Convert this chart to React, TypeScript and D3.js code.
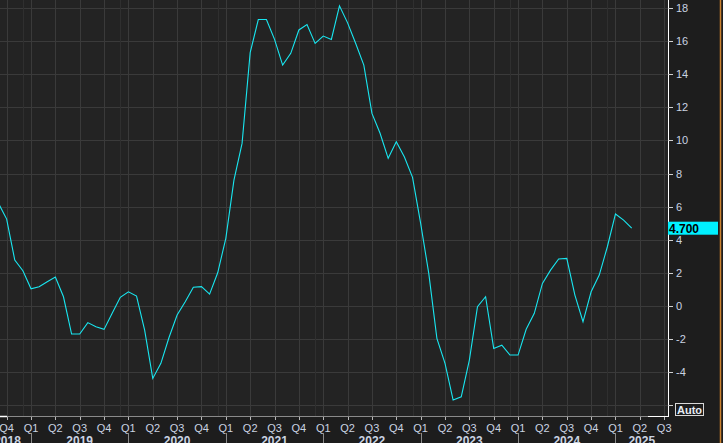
import React from "react";
import * as d3 from "d3";

// Monthly series starting Sep 2018 (index 0) through Mar 2025
const startYear = 2018;
const startMonth = 9; // September
const values: number[] = [
  // 2018 Sep-Dec
  6.2, 5.25, 2.78, 2.13,
  // 2019
  1.04, 1.17, 1.47, 1.75, 0.56, -1.69, -1.69, -1.0, -1.25, -1.41, -0.44, 0.53,
  // 2020
  0.86, 0.6, -1.45, -4.37, -3.46, -1.9, -0.54, 0.26, 1.13, 1.17, 0.72, 2.01,
  // 2021
  4.09, 7.6, 9.82, 15.3, 17.3, 17.3, 16.1, 14.55, 15.26, 16.67, 17.0, 15.86,
  // 2022
  16.3, 16.1, 18.13, 17.1, 15.85, 14.55, 11.63, 10.43, 8.92, 9.92, 9.0, 7.77,
  // 2023
  4.99, 1.97, -1.95, -3.46, -5.68, -5.48, -3.26, -0.04, 0.56, -2.56, -2.36, -2.96,
  // 2024
  -2.96, -1.4, -0.44, 1.37, 2.17, 2.84, 2.88, 0.66, -0.95, 0.86, 1.87, 3.58,
  // 2025
  5.56, 5.19, 4.7,
];
const lastLabel = "4.700";
const yTicks = [-4, -2, 0, 2, 4, 6, 8, 10, 12, 14, 16, 18];
const yGrid = [-6, -4, -2, 0, 2, 4, 6, 8, 10, 12, 14, 16, 18];
const years = [2018, 2019, 2020, 2021, 2022, 2023, 2024, 2025];
const quarterNames = ["Q1", "Q2", "Q3", "Q4"];

const W = 723;
const H = 443;
const PW = 668; // plot width
const PH = 416; // plot height

// month index helper (Sep 2018 = 0)
const idx = (year: number, month: number) => (year - startYear) * 12 + (month - startMonth);

export default function App() {
  const x = d3.scaleLinear().domain([0.181, 82.47]).range([0, PW]);
  const y = d3.scaleLinear().domain([-6.64, 18.48]).range([PH, 0]);

  const line = d3
    .line<number>()
    .x((_, i) => x(i))
    .y((d) => y(d));

  // quarter ticks: Q4 2018 .. Q3 2025
  const quarters: { i: number; label: string }[] = [];
  for (let yr = 2018; yr <= 2025; yr++) {
    for (let q = 0; q < 4; q++) {
      const i = idx(yr, q * 3 + 1);
      if (x(i) >= 0 && x(i) <= PW) quarters.push({ i, label: quarterNames[q] });
    }
  }
  const decLines = years.map((yr) => idx(yr, 12)).filter((i) => x(i) > 0 && x(i) < PW);

  const last = values[values.length - 1];
  const labelFont = "'Liberation Sans', Arial, sans-serif";
  const txtColor = "#cad3e2";

  return (
    <>
      <style>{`body{margin:0;background:#1d1d1d}`}</style>
      <svg width={W} height={H} style={{ display: "block" }} fontFamily={labelFont}>
        <rect x={0} y={0} width={W} height={H} fill="#1d1d1d" />
        <rect x={0} y={0} width={PW} height={PH} fill="#232323" />
        {/* horizontal grid */}
        {yGrid.map((v) => (
          <line key={"h" + v} x1={0} x2={PW} y1={Math.round(y(v)) + 0.5} y2={Math.round(y(v)) + 0.5} stroke="#3a3a3a" strokeWidth={1} />
        ))}
        {/* vertical grid */}
        {decLines.map((i) => (
          <line key={"d" + i} x1={Math.round(x(i)) + 0.5} x2={Math.round(x(i)) + 0.5} y1={0} y2={PH} stroke="#2f2f2f" strokeWidth={1} />
        ))}
        {quarters.map((q) => (
          <line key={"v" + q.i} x1={Math.round(x(q.i)) + 0.5} x2={Math.round(x(q.i)) + 0.5} y1={0} y2={PH} stroke="#3a3a3a" strokeWidth={1} />
        ))}
        {/* data line */}
        <clipPath id="plotclip">
          <rect x={0} y={0} width={PW} height={PH} />
        </clipPath>
        <path d={line(values) || ""} fill="none" stroke="#19e6f0" strokeWidth={1.1} clipPath="url(#plotclip)" />
        {/* x axis line */}
        <line x1={0} x2={PW} y1={PH + 0.5} y2={PH + 0.5} stroke="#8a8a8a" strokeWidth={1} />
        <line x1={0} x2={7} y1={PH + 0.5} y2={PH + 0.5} stroke="#ffffff" strokeWidth={1.5} />
        <line x1={648} x2={PW} y1={PH + 0.5} y2={PH + 0.5} stroke="#ffffff" strokeWidth={1} />
        {/* quarter ticks and labels */}
        {quarters.map((q) => (
          <g key={"q" + q.i}>
            <line x1={Math.round(x(q.i)) + 0.5} x2={Math.round(x(q.i)) + 0.5} y1={PH + 1} y2={PH + 4} stroke="#b8b8b8" />
            <text x={x(q.i)} y={432} textAnchor="middle" fontSize={11} fill={txtColor}>
              {q.label}
            </text>
          </g>
        ))}
        {/* year separators and labels */}
        {years.map((yr) => {
          const s = x(idx(yr, 1));
          const e = x(idx(yr + 1, 1));
          const l = Math.max(s, -16);
          const r = Math.min(e, PW);
          return (
            <g key={"y" + yr}>
              {s > 0 && s < PW && (
                <line x1={Math.round(s) + 0.5} x2={Math.round(s) + 0.5} y1={433} y2={H} stroke="#8a8a8a" />
              )}
              <text x={(l + r) / 2} y={445} textAnchor="middle" fontSize={12} fontWeight="bold" fill={txtColor}>
                {yr}
              </text>
            </g>
          );
        })}
        {/* y axis */}
        <line x1={PW + 0.5} x2={PW + 0.5} y1={0} y2={PH + 1} stroke="#ffffff" strokeWidth={1} />
        {yGrid.map((v) => (
          <line key={"t" + v} x1={PW} x2={PW + 5} y1={Math.round(y(v)) + 0.5} y2={Math.round(y(v)) + 0.5} stroke="#d0d0d0" />
        ))}
        {yTicks.map((v) => (
          <text key={"l" + v} x={676} y={y(v)} dy="0.36em" fontSize={11} fill={txtColor}>
            {v}
          </text>
        ))}
        {/* last value label */}
        <rect x={PW} y={y(last) - 6.5} width={50} height={13} fill="#00f0ff" />
        <text x={PW + 1} y={y(last)} dy="0.37em" fontSize={12} fontWeight="bold" fill="#000">
          {lastLabel}
        </text>
        {/* Auto box */}
        <rect x={675.5} y={403.5} width={28} height={12} fill="none" stroke="#d8d8d8" strokeWidth={1} />
        <text x={689.5} y={413.5} textAnchor="middle" fontSize={11} fontWeight="bold" fill="#e6ecf5">
          Auto
        </text>
        {/* orange border */}
        <line x1={720.5} x2={720.5} y1={0} y2={H} stroke="#c9802e" strokeWidth={1.5} />
      </svg>
    </>
  );
}
